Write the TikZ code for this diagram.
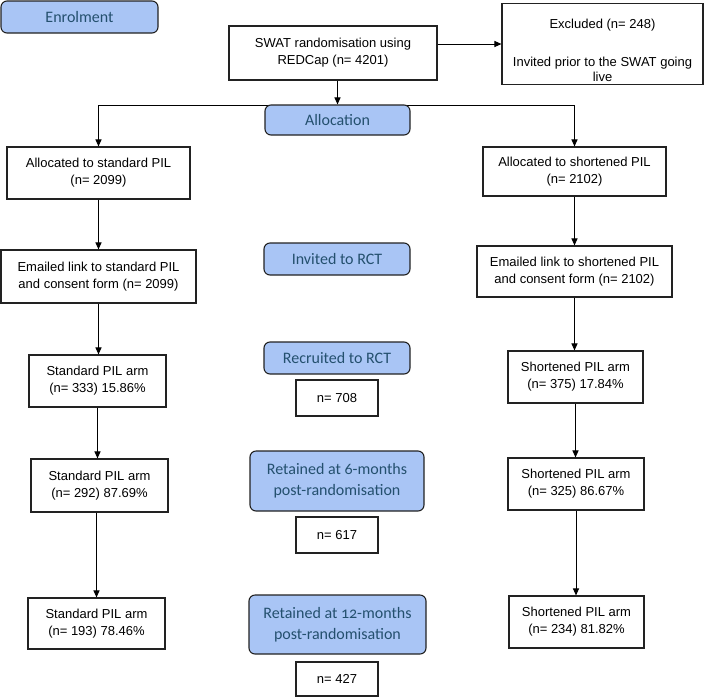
\documentclass[tikz,border=0pt]{standalone}
\usepackage{fontspec}
\setmainfont{Liberation Sans}
\newfontfamily\calfont{Carlito}[Numbers=OldStyle]
\usetikzlibrary{arrows.meta}
\definecolor{bluefill}{HTML}{A9C5F5}
\definecolor{bluetext}{HTML}{24506E}
\definecolor{edge}{HTML}{222222}
\begin{document}
\begin{tikzpicture}[x=1pt,y=-1pt,
  box/.style={draw=edge,line width=1.1pt,fill=white,align=center,inner sep=2pt,
    font=\fontsize{13}{17}\selectfont},
  phase/.style={draw=edge,line width=1.1pt,fill=bluefill,rounded corners=6pt,align=center,
    text=bluetext,inner sep=2pt,font=\calfont\fontsize{16}{21}\selectfont},
  arr/.style={line width=1pt,draw=black,-{Triangle[length=7pt,width=6pt]}},
  ln/.style={line width=1pt,draw=black}]
\useasboundingbox (0,0) rectangle (709,697);
% phase boxes
\node[phase,minimum width=157pt,minimum height=32pt] (enrol) at (79.5,17) {Enrolment};
\node[box,minimum width=208pt,minimum height=54pt] (swat) at (333,53) {SWAT randomisation using\\REDCap (n= 4201)};
\node[box,minimum width=201pt,minimum height=80pt,font=\fontsize{13}{15.5}\selectfont] (excl) at (602.5,44) {\rule{0pt}{23pt}Excluded (n= 248)\\[22pt]Invited prior to the SWAT going\\live};
\node[box,minimum width=183pt,minimum height=52pt] (allocS) at (98.5,173) {Allocated to standard PIL\\(n= 2099)};
\node[box,minimum width=183pt,minimum height=49pt] (allocR) at (574.5,171.5) {Allocated to shortened PIL\\(n= 2102)};
% connectors to allocation
\draw[ln] (337.5,105) coordinate (split) -- (98.5,105) coordinate (splitL);
\draw[ln] (split) -- (574.5,105) coordinate (splitR);
\draw[arr] (splitL) -- (allocS.north);
\draw[arr] (splitR) -- (allocR.north);
\node[phase,minimum width=145pt,minimum height=30pt] (alloc) at (337.5,120) {Allocation};
\draw[arr] (alloc.north |- swat.south) -- (alloc.north);
\draw[arr] (swat.east |- excl.west) -- (excl.west);
% emailed
\node[box,minimum width=195pt,minimum height=53pt] (emS) at (98.5,276.5) {Emailed link to standard PIL\\and consent form (n= 2099)};
\node[box,minimum width=195pt,minimum height=51pt] (emR) at (574.5,271.5) {Emailed link to shortened PIL\\and consent form (n= 2102)};
\node[phase,minimum width=146pt,minimum height=32pt] (inv) at (337,259) {Invited to RCT};
% recruited
\node[box,minimum width=137pt,minimum height=52pt] (armS1) at (97.5,381) {Standard PIL arm\\(n= 333) 15.86\%};
\node[box,minimum width=135pt,minimum height=52pt] (armR1) at (575.5,377) {Shortened PIL arm\\(n= 375) 17.84\%};
\node[phase,minimum width=146pt,minimum height=32pt] (rec) at (337,358) {Recruited to RCT};
\node[box,minimum width=82pt,minimum height=36pt] (n708) at (337,398) {n= 708};
% 6 months
\node[box,minimum width=137pt,minimum height=53pt] (armS2) at (99.5,485.5) {Standard PIL arm\\(n= 292) 87.69\%};
\node[box,minimum width=136pt,minimum height=52pt] (armR2) at (576,484) {Shortened PIL arm\\(n= 325) 86.67\%};
\node[phase,minimum width=174pt,minimum height=60pt] (ret6) at (337,481) {Retained at 6-months\\post-randomisation};
\node[box,minimum width=82pt,minimum height=36pt] (n617) at (337,535) {n= 617};
% 12 months
\node[box,minimum width=137pt,minimum height=51pt] (armS3) at (96.5,623.5) {Standard PIL arm\\(n= 193) 78.46\%};
\node[box,minimum width=135pt,minimum height=52pt] (armR3) at (576.5,622) {Shortened PIL arm\\(n= 234) 81.82\%};
\node[phase,minimum width=177pt,minimum height=59pt] (ret12) at (337.5,624.5) {Retained at 12-months\\post-randomisation};
\node[box,minimum width=82pt,minimum height=34pt] (n427) at (337,679) {n= 427};
% vertical arrows
\draw[arr] (allocS.south) -- (allocS.south |- emS.north);
\draw[arr] (emS.south) -- (emS.south |- armS1.north);
\draw[arr] (armS1.south) -- (armS1.south |- armS2.north);
\draw[arr] (armS2.south -| armS3.north) -- (armS3.north);
\draw[arr] (allocR.south) -- (allocR.south |- emR.north);
\draw[arr] (emR.south) -- (emR.south |- armR1.north);
\draw[arr] (armR1.south) -- (armR1.south |- armR2.north);
\draw[arr] (armR2.south) -- (armR2.south |- armR3.north);
\end{tikzpicture}
\end{document}
